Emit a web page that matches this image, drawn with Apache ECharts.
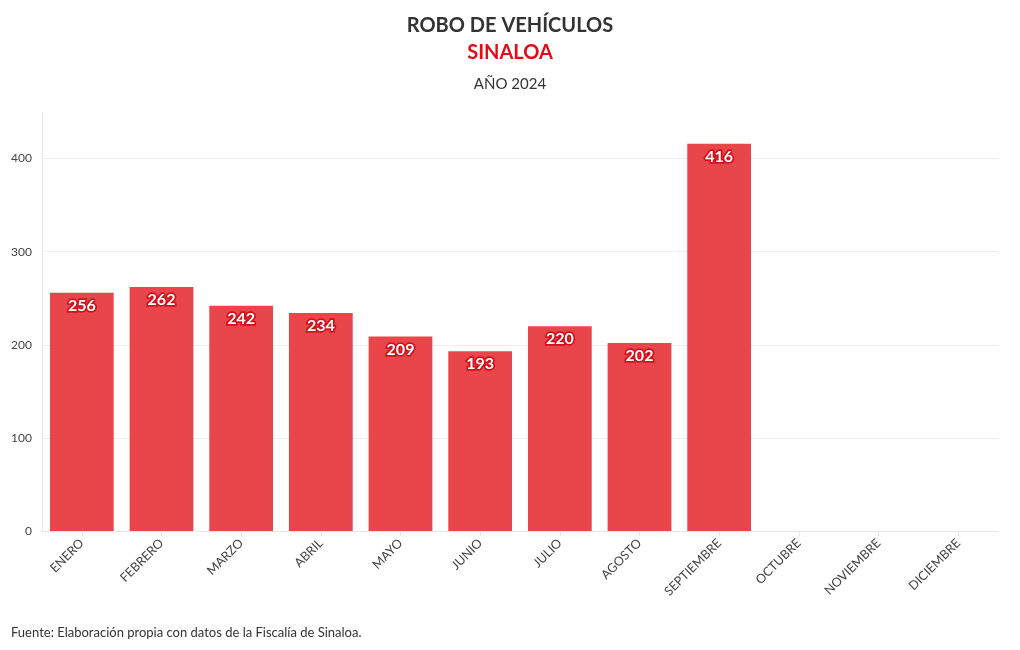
<!DOCTYPE html>
<html><head><meta charset="utf-8">
<script src="https://cdn.jsdelivr.net/npm/echarts@6/dist/echarts.min.js"></script>
<style>html,body{margin:0;padding:0;background:#fff}#c{width:1020px;height:650px}</style>
</head><body><div id="c"></div>
<script>
const months = ['ENERO','FEBRERO','MARZO','ABRIL','MAYO','JUNIO','JULIO','AGOSTO','SEPTIEMBRE','OCTUBRE','NOVIEMBRE','DICIEMBRE'];
const robos = [256, 262, 242, 234, 209, 193, 220, 202, 416, null, null, null];
const yTicks = [0, 100, 200, 300, 400];
const FONT = 'Lato, "Noto Sans", sans-serif';
const chart = echarts.init(document.getElementById('c'));
chart.setOption({
  animation: false,
  textStyle: {fontFamily: FONT},
  title: [
    {text: 'ROBO DE VEHÍCULOS', left: 'center', top: 11, textStyle: {fontFamily: FONT, fontSize: 20, fontWeight: 'bold', color: '#333'}},
    {text: 'SINALOA', left: 'center', top: 38, textStyle: {fontFamily: FONT, fontSize: 20, fontWeight: 'bold', color: '#e30b17'}},
    {text: 'AÑO 2024', left: 'center', top: 72, textStyle: {fontFamily: FONT, fontSize: 15, fontWeight: 'normal', color: '#333'}},
    {text: 'Fuente: Elaboración propia con datos de la Fiscalía de Sinaloa.', left: 6, top: 621, textStyle: {fontFamily: FONT, fontSize: 13, fontWeight: 'normal', color: '#333'}}
  ],
  grid: {left: 42, right: 22, top: 112, bottom: 119, containLabel: false},
  xAxis: {
    type: 'category', data: months,
    axisLine: {lineStyle: {color: '#e6e6e6'}},
    axisTick: {show: true, alignWithLabel: true, lineStyle: {color: '#e6e6e6'}},
    axisLabel: {rotate: 45, color: '#444', fontSize: 12.5, fontFamily: FONT, margin: 10, interval: 0}
  },
  yAxis: {
    type: 'value', min: 0, max: 450, interval: 100,
    axisLine: {show: true, lineStyle: {color: '#e6e6e6'}},
    axisTick: {show: false},
    splitLine: {showMaxLine: false, lineStyle: {color: '#efefef'}},
    axisLabel: {color: '#444', fontSize: 12, fontFamily: FONT, margin: 10, showMaxLabel: false,
      formatter: v => yTicks.includes(v) ? String(v) : ''}
  },
  series: [{
    type: 'bar', data: robos, barCategoryGap: '20%',
    itemStyle: {color: '#e8464a'},
    label: {show: true, position: 'insideTop', distance: 5, color: '#fff', fontWeight: 'bold', fontSize: 16,
      fontFamily: FONT, textBorderColor: '#d40f1c', textBorderWidth: 3.5}
  }]
});
</script></body></html>
